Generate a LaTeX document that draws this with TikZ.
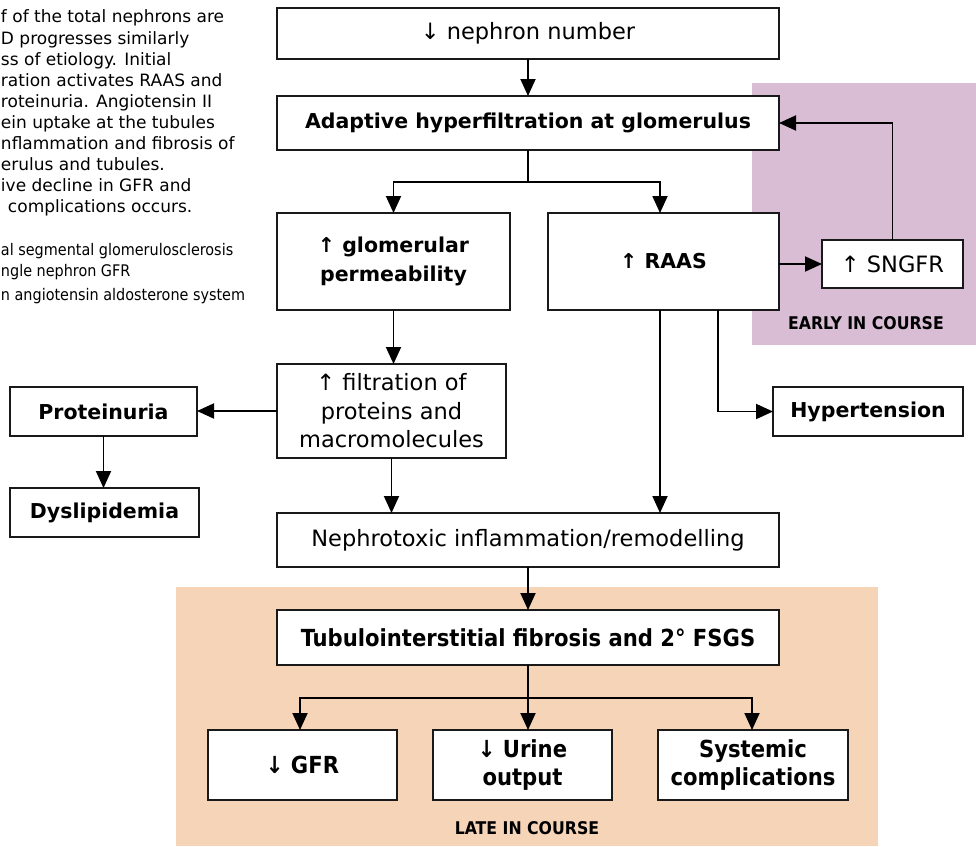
\documentclass[tikz,border=0pt]{standalone}
\usepackage{fontspec}
\setmainfont{DejaVu Sans}
\newfontfamily\condf{DejaVu Sans Condensed}
\usetikzlibrary{arrows.meta,calc}
\definecolor{earlybg}{RGB}{217,189,213}
\definecolor{latebg}{RGB}{246,212,184}
\definecolor{boxline}{RGB}{25,25,25}
\begin{document}
\begin{tikzpicture}[x=1pt,y=-1pt,
  every node/.style={inner sep=0pt,outer sep=0pt},
  fbox/.style={draw=boxline,line width=1.8pt,fill=white,align=center},
  regtxt/.style={font=\fontsize{22.5}{28.5}\selectfont},
  boldtxt/.style={font=\fontsize{20.5}{29}\selectfont\bfseries},
  condtxt/.style={font=\fontsize{23.5}{28}\selectfont\condf\bfseries},
  side/.style={font=\fontsize{17}{21}\selectfont,anchor=mid west},
  sidec/.style={font=\fontsize{16}{21}\selectfont\condf,anchor=mid west},
  lbl/.style={font=\fontsize{17.5}{20}\selectfont\condf\bfseries},
  arr/.style={draw=black,line width=1.9pt,-{Triangle[length=17pt,width=15pt]}},
  ln/.style={draw=black,line width=1.9pt}]
\useasboundingbox (0,0) rectangle (976,846);
% background regions
\fill[earlybg] (752,83) rectangle (976,345);
\fill[latebg] (176,587) rectangle (878,846);
\node[lbl] (early) at (866,323) {EARLY IN COURSE};
\node[lbl] (late) at (527,828) {LATE IN COURSE};
% left text (as cut off at the left edge in the reference)
\node[side] (t1) at (1,20) {f of the total nephrons are};
\node[side] (t2) at (1,42) {D progresses similarly};
\node[side] (t3) at (1,63) {ss of etiology. Initial};
\node[side] (t4) at (1,84) {ration activates RAAS and};
\node[side] (t5) at (1,105) {roteinuria. Angiotensin II};
\node[side] (t6) at (1,126) {ein uptake at the tubules};
\node[side] (t7) at (1,147) {nflammation and fibrosis of};
\node[side] (t8) at (1,168) {erulus and tubules.};
\node[side] (t9) at (1,189) {ive decline in GFR and};
\node[side] (t10) at (8,210) {complications occurs.};
\node[sidec] (a1) at (1,253) {al segmental glomerulosclerosis};
\node[sidec] (a2) at (1,274) {ngle nephron GFR};
\node[sidec] (a3) at (1,298) {n angiotensin aldosterone system};
% boxes
\node[fbox,regtxt,minimum width=502pt,minimum height=51pt] (nep) at (528,33.5) {↓ nephron number};
\node[fbox,boldtxt,minimum width=502pt,minimum height=54pt] (ada) at (528,123) {Adaptive hyperfiltration at glomerulus};
\node[fbox,boldtxt,minimum width=233pt,minimum height=97pt] (glo) at (393.5,261.5) {↑ glomerular\\permeability};
\node[fbox,boldtxt,minimum width=231pt,minimum height=97pt] (raas) at (663.5,261.5) {↑ RAAS};
\node[fbox,regtxt,minimum width=141pt,minimum height=48pt] (sng) at (892.5,264) {↑ SNGFR};
\node[fbox,regtxt,minimum width=229pt,minimum height=94pt] (fil) at (391.5,411) {↑ filtration of\\proteins and\\macromolecules};
\node[fbox,boldtxt,minimum width=187pt,minimum height=49pt] (pro) at (103.5,411.5) {Proteinuria};
\node[fbox,boldtxt,minimum width=189pt,minimum height=49pt] (dys) at (104.5,512.5) {Dyslipidemia};
\node[fbox,regtxt,minimum width=502pt,minimum height=54pt] (nxt) at (528,540) {Nephrotoxic inflammation/remodelling};
\node[fbox,boldtxt,minimum width=190pt,minimum height=49pt] (hyp) at (868,411.5) {Hypertension};
\node[fbox,condtxt,minimum width=502pt,minimum height=55pt] (tub) at (528,637.5) {Tubulointerstitial fibrosis and 2° FSGS};
\node[fbox,condtxt,minimum width=189pt,minimum height=70pt] (gfr) at (302.5,765) {↓ GFR};
\node[fbox,condtxt,minimum width=179pt,minimum height=70pt] (uri) at (522.5,765) {↓ Urine\\output};
\node[fbox,condtxt,minimum width=190pt,minimum height=70pt] (sys) at (753,765) {Systemic\\complications};
% connectors
\coordinate (split1) at (528,182);
\coordinate (split2) at (528,698);
\draw[arr] (nep.south) -- (ada.north);
\draw[ln] (ada.south) -- (split1);
\draw[arr] (split1) -| (glo.north);
\draw[arr] (split1) -| ([xshift=-3.5pt]raas.north);
\draw[arr] (raas.east |- sng.west) -- (sng.west);
\draw[arr] (sng.north) |- (ada.east);
\draw[arr] (glo.south) -- (glo.south |- fil.north);
\draw[arr] (fil.west) -- (pro.east |- fil.west);
\draw[arr] (pro.south) -- (pro.south |- dys.north);
\draw[arr] (fil.south) -- (fil.south |- nxt.north);
\draw[arr] ([xshift=-3.5pt]raas.south) -- ([xshift=-3.5pt]raas.south |- nxt.north);
\draw[arr] ([xshift=54.5pt]raas.south) |- (hyp.west);
\draw[arr] (nxt.south) -- (tub.north);
\draw[ln] (tub.south) -- (split2);
\draw[arr] (split2) -| ([xshift=-2.5pt]gfr.north);
\draw[arr] (split2) -- (split2 |- uri.north);
\draw[arr] (split2) -| ([xshift=-1pt]sys.north);
\end{tikzpicture}
\end{document}
